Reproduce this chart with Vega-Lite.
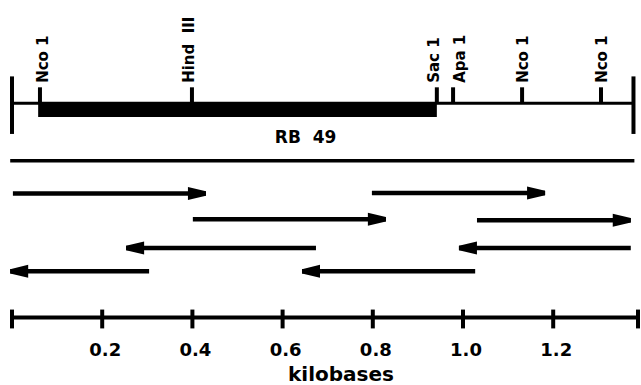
{
  "$schema": "https://vega.github.io/schema/vega-lite/v6.json",
  "width": 641,
  "height": 385,
  "padding": 0,
  "autosize": {"type": "fit", "contains": "padding"},
  "background": "white",
  "config": {"view": {"stroke": null}},
  "datasets": {
    "map": [{"start": 0, "end": 1.378}],
    "ends": [{"kb": 0}, {"kb": 1.378}],
    "insert": [{"start": 0.058, "end": 0.942}],
    "sites": [
      {"name": "Nco 1", "kb": 0.062, "label_kb": 0.080},
      {"name": "Hind\u00a0\u00a0III", "kb": 0.399, "label_kb": 0.404},
      {"name": "Sac 1", "kb": 0.942, "label_kb": 0.947},
      {"name": "Apa 1", "kb": 0.978, "label_kb": 1.004},
      {"name": "Nco 1", "kb": 1.131, "label_kb": 1.144},
      {"name": "Nco 1", "kb": 1.306, "label_kb": 1.319}
    ],
    "rb49": [{"name": "RB\u00a0\u00a049", "start": -0.004, "end": 1.38, "label_kb": 0.651}],
    "arrows": [
      {"row": 19.5, "tail": 0.002, "tip": 0.430, "dir": "right"},
      {"row": 19.45, "tail": 0.798, "tip": 1.182, "dir": "right"},
      {"row": 22.1, "tail": 0.401, "tip": 0.829, "dir": "right"},
      {"row": 22.2, "tail": 1.031, "tip": 1.372, "dir": "right"},
      {"row": 25.0, "tail": 0.674, "tip": 0.253, "dir": "left"},
      {"row": 25.0, "tail": 1.372, "tip": 0.991, "dir": "left"},
      {"row": 27.35, "tail": 0.304, "tip": -0.004, "dir": "left"},
      {"row": 27.35, "tail": 1.027, "tip": 0.643, "dir": "left"}
    ],
    "scalebar": [{"start": 0, "end": 1.388}],
    "scaleTicks": [
      {"kb": 0}, {"kb": 0.2}, {"kb": 0.4}, {"kb": 0.6}, {"kb": 0.8}, {"kb": 1.0}, {"kb": 1.2}, {"kb": 1.388}
    ],
    "scaleLabels": [
      {"kb": 0.2, "label": "0.2"}, {"kb": 0.4, "label": "0.4"}, {"kb": 0.6, "label": "0.6"},
      {"kb": 0.8, "label": "0.8"}, {"kb": 1.0, "label": "1.0"}, {"kb": 1.2, "label": "1.2"}
    ],
    "title": [{"kb": 0.7295, "text": "kilobases"}]
  },
  "layer": [
    {
      "data": {"name": "map"},
      "mark": {"type": "rule", "color": "black", "strokeWidth": 3},
      "encoding": {
        "x": {"field": "start", "type": "quantitative", "axis": null, "scale": {"domain": [-0.026608, 1.394678], "nice": false, "zero": false}},
        "x2": {"field": "end"},
        "y": {"datum": 10.4, "type": "quantitative", "axis": null, "scale": {"domain": [0, 38.5], "reverse": true, "nice": false, "zero": false}}
      }
    },
    {
      "data": {"name": "insert"},
      "mark": {"type": "rect", "color": "black"},
      "encoding": {
        "x": {"field": "start", "type": "quantitative"},
        "x2": {"field": "end"},
        "y": {"datum": 10.3, "type": "quantitative"},
        "y2": {"datum": 11.8}
      }
    },
    {
      "data": {"name": "ends"},
      "mark": {"type": "rule", "color": "black", "strokeWidth": 4},
      "encoding": {
        "x": {"field": "kb", "type": "quantitative"},
        "y": {"datum": 7.7, "type": "quantitative"},
        "y2": {"datum": 13.5}
      }
    },
    {
      "data": {"name": "sites"},
      "mark": {"type": "rule", "color": "black", "strokeWidth": 4},
      "encoding": {
        "x": {"field": "kb", "type": "quantitative"},
        "y": {"datum": 8.8, "type": "quantitative"},
        "y2": {"datum": 10.4}
      }
    },
    {
      "data": {"name": "sites"},
      "mark": {"type": "text", "angle": 270, "align": "left", "baseline": "alphabetic", "font": "DejaVu Sans", "fontWeight": "bold", "fontSize": 15, "color": "black"},
      "encoding": {
        "x": {"field": "label_kb", "type": "quantitative"},
        "y": {"datum": 8.35, "type": "quantitative"},
        "text": {"field": "name"}
      }
    },
    {
      "data": {"name": "rb49"},
      "mark": {"type": "text", "align": "center", "baseline": "alphabetic", "font": "DejaVu Sans", "fontWeight": "bold", "fontSize": 17, "color": "black"},
      "encoding": {
        "x": {"field": "label_kb", "type": "quantitative"},
        "y": {"datum": 14.4, "type": "quantitative"},
        "text": {"field": "name"}
      }
    },
    {
      "data": {"name": "rb49"},
      "mark": {"type": "rule", "color": "black", "strokeWidth": 3.5},
      "encoding": {
        "x": {"field": "start", "type": "quantitative"},
        "x2": {"field": "end"},
        "y": {"datum": 16.2, "type": "quantitative"}
      }
    },
    {
      "data": {"name": "arrows"},
      "mark": {"type": "rule", "color": "black", "strokeWidth": 4.5},
      "encoding": {
        "x": {"field": "tail", "type": "quantitative"},
        "x2": {"field": "tip"},
        "y": {"field": "row", "type": "quantitative"}
      }
    },
    {
      "data": {"name": "arrows"},
      "mark": {"type": "point", "filled": true, "color": "black", "opacity": 1, "strokeWidth": 0, "size": 169},
      "encoding": {
        "x": {"field": "tip", "type": "quantitative"},
        "y": {"field": "row", "type": "quantitative"},
        "shape": {
          "field": "dir", "type": "nominal", "legend": null,
          "scale": {"domain": ["right", "left"], "range": ["M-2.77,-1L0,-0.34L0,0.34L-2.77,1Z", "M2.77,-1L0,-0.34L0,0.34L2.77,1Z"]}
        }
      }
    },
    {
      "data": {"name": "scalebar"},
      "mark": {"type": "rule", "color": "black", "strokeWidth": 4},
      "encoding": {
        "x": {"field": "start", "type": "quantitative"},
        "x2": {"field": "end"},
        "y": {"datum": 32.0, "type": "quantitative"}
      }
    },
    {
      "data": {"name": "scaleTicks"},
      "mark": {"type": "rule", "color": "black", "strokeWidth": 4},
      "encoding": {
        "x": {"field": "kb", "type": "quantitative"},
        "y": {"datum": 31.2, "type": "quantitative"},
        "y2": {"datum": 33.1}
      }
    },
    {
      "data": {"name": "scaleLabels"},
      "mark": {"type": "text", "align": "center", "baseline": "alphabetic", "dx": 3, "font": "DejaVu Sans", "fontWeight": "bold", "fontSize": 18, "color": "black"},
      "encoding": {
        "x": {"field": "kb", "type": "quantitative"},
        "y": {"datum": 35.9, "type": "quantitative"},
        "text": {"field": "label"}
      }
    },
    {
      "data": {"name": "title"},
      "mark": {"type": "text", "align": "center", "baseline": "alphabetic", "font": "DejaVu Sans", "fontWeight": "bold", "fontSize": 20, "color": "black"},
      "encoding": {
        "x": {"field": "kb", "type": "quantitative"},
        "y": {"datum": 38.4, "type": "quantitative"},
        "text": {"field": "text"}
      }
    }
  ]
}
